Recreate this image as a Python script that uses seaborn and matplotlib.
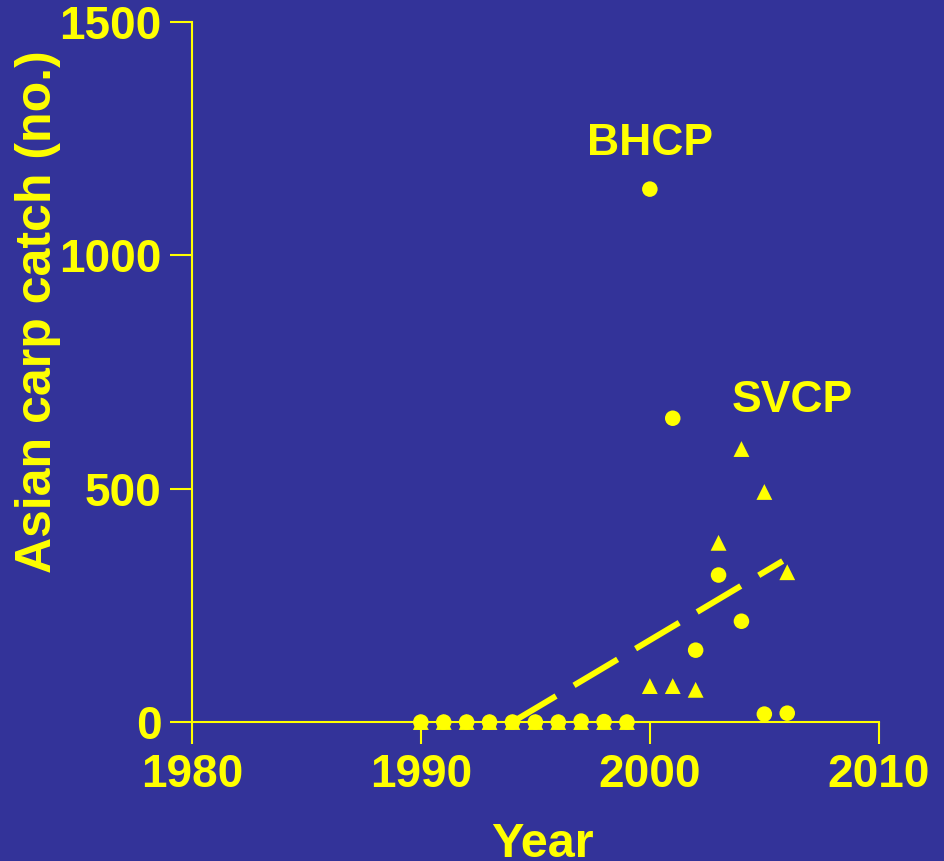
import numpy as np
import pandas as pd
import matplotlib
matplotlib.use("Agg")
import matplotlib.pyplot as plt
import seaborn as sns

# Catch data
years = [1990, 1991, 1992, 1993, 1994, 1995, 1996, 1997, 1998, 1999,
         2000, 2001, 2002, 2003, 2004, 2005, 2006]
bhcp_catch = [0, 0, 0, 0, 0, 0, 0, 2, 1, 0,
              1142, 651, 154, 315, 216, 17, 19]
svcp_catch = [0, 0, 0, 0, 0, 0, 0, 0, 0, 0,
              77, 77, 69, 384, 585, 493, 321]

# dashed trend line endpoints
trend_years = [1994, 2005.8]
trend_catch = [0, 345]

x_ticks = [1980, 1990, 2000, 2010]
y_ticks = [0, 500, 1000, 1500]

bg = "#333399"
yellow = "#FFFF00"

sns.set_style("white")
plt.rcParams['font.family'] = ['Liberation Sans', 'DejaVu Sans']
plt.rcParams['font.weight'] = 'bold'

df_b = pd.DataFrame({"year": years, "catch": bhcp_catch})
df_s = pd.DataFrame({"year": years, "catch": svcp_catch})
df_t = pd.DataFrame({"year": trend_years, "catch": trend_catch})

fig = plt.figure(figsize=(9.45, 8.61), dpi=100, facecolor=bg)
ax = fig.add_axes([0.203, 0.1614, 0.727, 0.813])
ax.set_facecolor(bg)

# trend line
sns.lineplot(data=df_t, x="year", y="catch", ax=ax, color=yellow, lw=4.3,
             dashes=False, zorder=2)
ax.lines[-1].set_dashes((8.5, 3.5))
ax.lines[-1].set_dash_capstyle("butt")

# SVCP triangles, BHCP circles
sns.scatterplot(data=df_s, x="year", y="catch", ax=ax, marker="^", s=130,
                color=yellow, edgecolor="none", clip_on=False, zorder=3)
sns.scatterplot(data=df_b, x="year", y="catch", ax=ax, marker="o", s=125,
                color=yellow, edgecolor="none", clip_on=False, zorder=4)

ax.set_xlim(1980, 2010)
ax.set_ylim(0, 1500)
ax.set_xticks(x_ticks)
ax.set_yticks(y_ticks)
ax.tick_params(axis="both", colors=yellow, labelsize=33, length=16, width=1.5,
               direction="out", bottom=True, left=True)
ax.tick_params(axis="x", pad=6)
ax.tick_params(axis="y", pad=6)
for lab in ax.get_xticklabels() + ax.get_yticklabels():
    lab.set_fontweight("bold")

for side in ["top", "right"]:
    ax.spines[side].set_visible(False)
for side in ["left", "bottom"]:
    ax.spines[side].set_color(yellow)
    ax.spines[side].set_linewidth(1.5)

ax.set_xlabel("Year", fontsize=35, fontweight="bold", color=yellow)
ax.set_ylabel("Asian carp catch (no.)", fontsize=36, fontweight="bold", color=yellow)
ax.xaxis.set_label_coords(0.511, -0.143)
ax.yaxis.set_label_coords(-0.19, 0.586)

ax.text(2000, 1240, "BHCP", fontsize=32, fontweight="bold", color=yellow,
        ha="center", va="center")
ax.text(2006.2, 690, "SVCP", fontsize=32, fontweight="bold", color=yellow,
        ha="center", va="center")

fig.savefig("out.png", dpi=100, facecolor=bg)
